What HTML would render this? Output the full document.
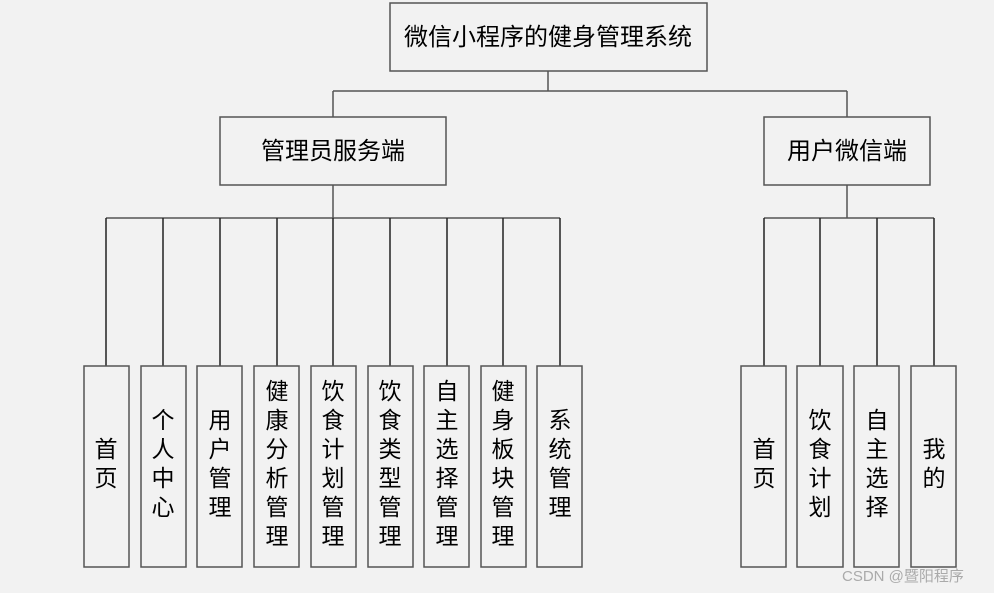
<!DOCTYPE html>
<html><head><meta charset="utf-8"><style>
html,body{margin:0;padding:0;background:#f2f2f2;}
svg{display:block;}
text{font-family:"Liberation Sans","Noto Sans CJK SC",sans-serif;fill:#000;}
</style></head><body>
<svg width="994" height="593" viewBox="0 0 994 593" xmlns="http://www.w3.org/2000/svg">
<rect width="994" height="593" fill="#f2f2f2"/>
<g stroke="#555" stroke-width="1.5" fill="none">
<line x1="548" y1="71" x2="548" y2="91"/>
<line x1="333" y1="91" x2="847" y2="91"/>
<line x1="333" y1="91" x2="333" y2="117"/>
<line x1="847" y1="91" x2="847" y2="117"/>
<line x1="333" y1="185" x2="333" y2="218"/>
<line x1="106" y1="218" x2="560" y2="218"/>
<line x1="847" y1="185" x2="847" y2="218"/>
<line x1="764" y1="218" x2="934" y2="218"/>
<g stroke="#222">
<line x1="106" y1="218" x2="106" y2="366"/><line x1="163" y1="218" x2="163" y2="366"/>
<line x1="220" y1="218" x2="220" y2="366"/><line x1="277" y1="218" x2="277" y2="366"/>
<line x1="333" y1="218" x2="333" y2="366"/><line x1="390" y1="218" x2="390" y2="366"/>
<line x1="447" y1="218" x2="447" y2="366"/><line x1="503" y1="218" x2="503" y2="366"/>
<line x1="560" y1="218" x2="560" y2="366"/>
<line x1="764" y1="218" x2="764" y2="366"/><line x1="820" y1="218" x2="820" y2="366"/>
<line x1="877" y1="218" x2="877" y2="366"/><line x1="934" y1="218" x2="934" y2="366"/>
</g>
<rect x="390" y="3" width="317" height="68"/>
<rect x="220" y="117" width="226" height="68"/>
<rect x="764" y="117" width="166" height="68"/>
<rect x="84" y="366" width="45" height="201"/>
<rect x="141" y="366" width="45" height="201"/>
<rect x="197" y="366" width="45" height="201"/>
<rect x="254" y="366" width="45" height="201"/>
<rect x="311" y="366" width="45" height="201"/>
<rect x="368" y="366" width="45" height="201"/>
<rect x="424" y="366" width="45" height="201"/>
<rect x="481" y="366" width="45" height="201"/>
<rect x="537" y="366" width="45" height="201"/>
<rect x="741" y="366" width="45" height="201"/>
<rect x="797" y="366" width="46" height="201"/>
<rect x="854" y="366" width="45" height="201"/>
<rect x="911" y="366" width="45" height="201"/>
</g>
<g font-size="23" text-anchor="middle">
<text x="548" y="45" font-size="24">微信小程序的健身管理系统</text>
<text x="333" y="159" font-size="24">管理员服务端</text>
<text x="847" y="159" font-size="24">用户微信端</text>
</g>
<g font-size="23" text-anchor="middle" dominant-baseline="central">
<text x="106" y="449">首</text><text x="106" y="478">页</text>
<text x="163" y="420">个</text><text x="163" y="449">人</text><text x="163" y="478">中</text><text x="163" y="507">心</text>
<text x="220" y="420">用</text><text x="220" y="449">户</text><text x="220" y="478">管</text><text x="220" y="507">理</text>
<text x="277" y="391">健</text><text x="277" y="420">康</text><text x="277" y="449">分</text><text x="277" y="478">析</text><text x="277" y="507">管</text><text x="277" y="536">理</text>
<text x="333" y="391">饮</text><text x="333" y="420">食</text><text x="333" y="449">计</text><text x="333" y="478">划</text><text x="333" y="507">管</text><text x="333" y="536">理</text>
<text x="390" y="391">饮</text><text x="390" y="420">食</text><text x="390" y="449">类</text><text x="390" y="478">型</text><text x="390" y="507">管</text><text x="390" y="536">理</text>
<text x="447" y="391">自</text><text x="447" y="420">主</text><text x="447" y="449">选</text><text x="447" y="478">择</text><text x="447" y="507">管</text><text x="447" y="536">理</text>
<text x="503" y="391">健</text><text x="503" y="420">身</text><text x="503" y="449">板</text><text x="503" y="478">块</text><text x="503" y="507">管</text><text x="503" y="536">理</text>
<text x="560" y="420">系</text><text x="560" y="449">统</text><text x="560" y="478">管</text><text x="560" y="507">理</text>
<text x="764" y="449">首</text><text x="764" y="478">页</text>
<text x="820" y="420">饮</text><text x="820" y="449">食</text><text x="820" y="478">计</text><text x="820" y="507">划</text>
<text x="877" y="420">自</text><text x="877" y="449">主</text><text x="877" y="478">选</text><text x="877" y="507">择</text>
<text x="934" y="449">我</text><text x="934" y="478">的</text>
</g>
<text x="842" y="581" font-size="15" fill="#aaa" style="fill:#aaa">CSDN @暨阳程序</text>
</svg>
</body></html>
